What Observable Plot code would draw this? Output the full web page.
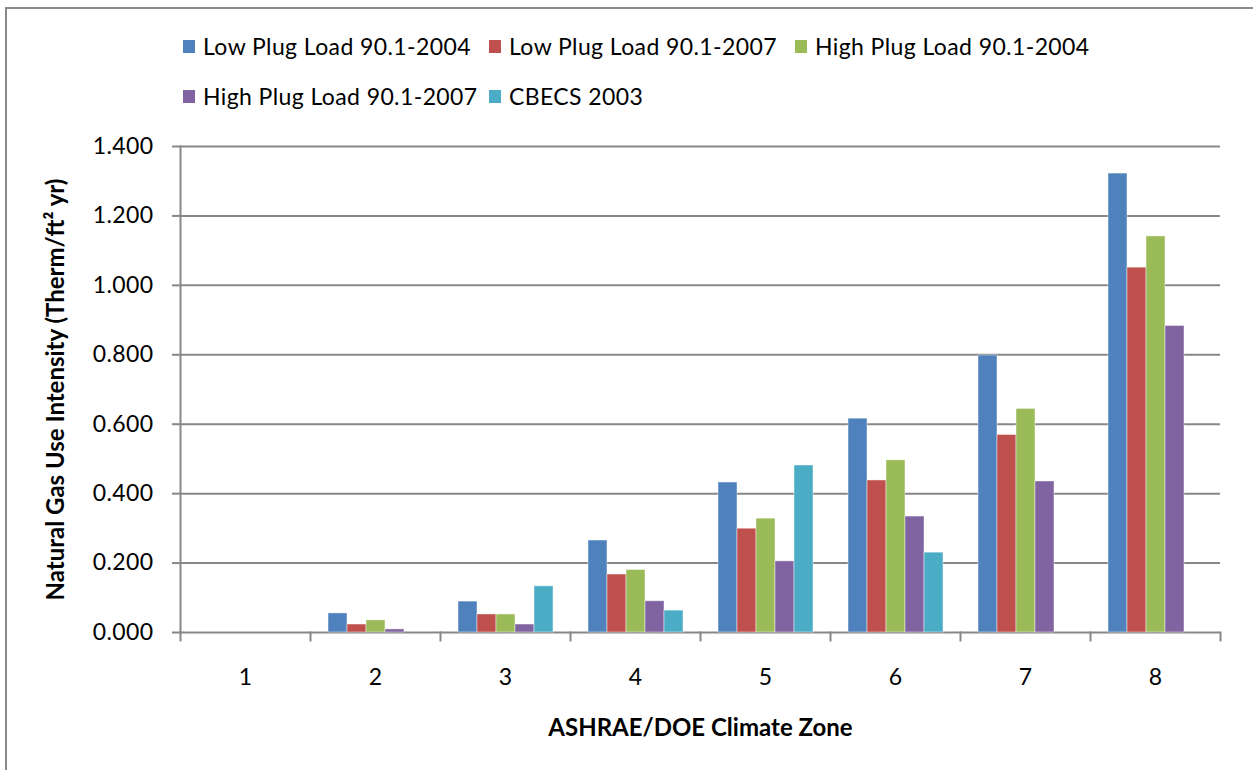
<!DOCTYPE html>
<html>
<head>
<meta charset="utf-8">
<script src="https://cdn.jsdelivr.net/npm/d3@7"></script>
<script src="https://cdn.jsdelivr.net/npm/@observablehq/plot@0.6"></script>
<style>
  body { margin: 0; background: #fff; font-family: Lato, "Open Sans", sans-serif; overflow: hidden; }
  #border { position: absolute; left: 5px; top: 7px; width: 1300px; height: 800px;
            border-top: 2px solid #8a8a8a; border-left: 2px solid #8a8a8a; pointer-events: none; }
  #legend { height: 125px; box-sizing: border-box; padding-left: 183px; padding-top: 33px;
            display: grid; grid-template-columns: repeat(3, 306px); grid-auto-rows: 26px; row-gap: 24px; }
  .item { display: flex; align-items: center; font-size: 23px; letter-spacing: 0.4px; color: #000; white-space: nowrap; }
  .sw { width: 12px; height: 13px; margin-right: 8px; flex: none; }
  #chart svg { display: block; }
  #chart text { letter-spacing: 0.4px; }
  #chart g[aria-label="y-axis label"] text, #chart g[aria-label="fx-axis label"] text {
    font-weight: bold; font-size: 24px; letter-spacing: 0; }
</style>
</head>
<body>
<div id="border"></div>
<div id="legend"></div>
<div id="chart"></div>
<script>
const zones = ["1", "2", "3", "4", "5", "6", "7", "8"];
const seriesNames = [
  "Low Plug Load 90.1-2004",
  "Low Plug Load 90.1-2007",
  "High Plug Load 90.1-2004",
  "High Plug Load 90.1-2007",
  "CBECS 2003"
];
const seriesColors = ["#4F81BD", "#C0504D", "#9BBB59", "#8064A2", "#4BACC6"];
const lowPlug2004  = [0, 0.055, 0.089, 0.265, 0.432, 0.616, 0.798, 1.322];
const lowPlug2007  = [0, 0.023, 0.052, 0.167, 0.299, 0.438, 0.569, 1.051];
const highPlug2004 = [0, 0.035, 0.052, 0.180, 0.328, 0.496, 0.644, 1.141];
const highPlug2007 = [0, 0.009, 0.023, 0.090, 0.205, 0.334, 0.435, 0.883];
const cbecs2003    = [null, null, 0.133, 0.063, 0.481, 0.230, null, null];
const yTicks = [0, 0.2, 0.4, 0.6, 0.8, 1.0, 1.2, 1.4];

const allSeries = [lowPlug2004, lowPlug2007, highPlug2004, highPlug2007, cbecs2003];
const data = [];
zones.forEach((z, zi) => {
  seriesNames.forEach((s, si) => {
    const v = allSeries[si][zi];
    if (v != null) data.push({zone: z, series: s, value: v});
  });
});

// legend
const legend = d3.select("#legend");
seriesNames.forEach((s, i) => {
  const it = legend.append("div").attr("class", "item");
  it.append("div").attr("class", "sw").style("background", seriesColors[i]);
  it.append("span").text(s);
});

const W = 1253, H = 645;
const mTop = 21, mBottom = 138, mLeft = 178, mRight = 31;
const innerH = H - mTop - mBottom;
const gray = "#878787";

const chart = Plot.plot({
  width: W,
  height: H,
  marginTop: mTop,
  marginBottom: mBottom,
  marginLeft: mLeft,
  marginRight: mRight,
  style: {fontFamily: "Lato, 'Open Sans', sans-serif", fontSize: "23px", color: "#000", background: "#fff"},
  fx: {domain: zones, padding: 0},
  x: {domain: seriesNames, paddingInner: 0, paddingOuter: 0.76, axis: null},
  y: {domain: [0, 1.4]},
  color: {domain: seriesNames, range: seriesColors},
  marks: [
    Plot.ruleY(yTicks, {stroke: gray, strokeWidth: 2}),
    Plot.frame({anchor: "left", facetAnchor: "left", stroke: gray, strokeWidth: 2}),
    Plot.frame({anchor: "left", stroke: gray, strokeWidth: 2, insetTop: innerH, insetBottom: -8}),
    Plot.frame({anchor: "right", facetAnchor: "right", stroke: gray, strokeWidth: 2, insetTop: innerH, insetBottom: -8}),
    Plot.barY(data, {fx: "zone", x: "series", y: "value", fill: "series",
                     stroke: "#ffffff", strokeOpacity: 0.45, strokeWidth: 1}),
    Plot.axisY({ticks: yTicks, tickSize: 8, tickPadding: 19, stroke: gray, strokeWidth: 2,
                tickFormat: d3.format(".3f"), fontSize: 23,
                label: "Natural Gas Use Intensity (Therm/ft² yr)", labelAnchor: "center",
                labelArrow: "none", labelOffset: 134}),
    Plot.axisFx({anchor: "bottom", tickSize: 0, tickPadding: 36, fontSize: 23,
                 label: "ASHRAE/DOE Climate Zone", labelAnchor: "center", labelArrow: "none",
                 labelOffset: 103})
  ]
});
document.getElementById("chart").appendChild(chart);
</script>
</body>
</html>
